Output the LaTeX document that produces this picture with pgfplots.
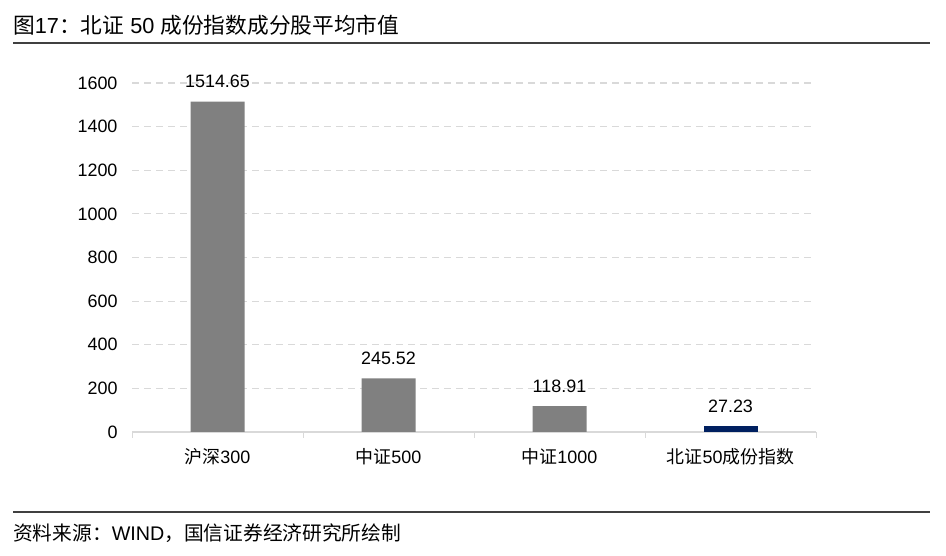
\documentclass[border=0pt]{standalone}
\usepackage{fontspec}
\setmainfont{Liberation Sans}
\newfontfamily\cjk{Noto Sans CJK SC}
\usepackage{pgfplots}
\pgfplotsset{compat=1.18}
\definecolor{bargray}{HTML}{808080}
\definecolor{barnavy}{HTML}{002060}
\definecolor{gridgray}{HTML}{D9D9D9}
\definecolor{rulegray}{HTML}{404040}
\begin{document}
\begin{tikzpicture}[x=1bp,y=1bp]
\useasboundingbox (0,0) rectangle (946,556);
% title and source
\node[anchor=west,inner sep=0pt,font=\fontsize{21.8}{24}\selectfont] at (13,531) {{\cjk 图}17{\cjk ：北证} 50 {\cjk 成份指数成分股平均市值}};
\draw[rulegray,line width=1.5bp] (13,513) -- (930,513);
\draw[rulegray,line width=1.5bp] (13,44) -- (930,44);
\node[anchor=west,inner sep=0pt,font=\fontsize{19.8}{22}\selectfont] at (13,23) {{\cjk 资料来源：}WIND{\cjk ，国信证券经济研究所绘制}};
\begin{axis}[
    at={(132bp,124bp)},
    anchor=south west,
    scale only axis,
    width=684bp,
    height=349bp,
    xmin=-0.5, xmax=3.5,
    ymin=0, ymax=1600,
    ytick={0,200,...,1600},
    xtick={-0.5,0.5,1.5,2.5,3.5},
    xticklabels={},
    extra x ticks={0,1,2,3},
    extra x tick labels={{\cjk 沪深}300,{\cjk 中证}500,{\cjk 中证}1000,{\cjk 北证}50{\cjk 成份指数}},
    extra x tick style={major tick length=0pt, grid=none},
    axis x line*=bottom,
    axis y line*=left,
    y axis line style={draw=none},
    ytick style={draw=none},
    x axis line style={gridgray, line width=1.2bp, -},
    xtick style={gridgray, line width=1bp},
    major tick length=6bp,
    tick align=outside,
    ymajorgrids,
    major grid style={gridgray, line width=1.2bp, dash pattern=on 7bp off 5bp},
    ticklabel style={font=\fontsize{18}{20}\selectfont, text=black},
    /pgf/number format/assume math mode=true,
    /pgf/number format/1000 sep={},
    yticklabel style={xshift=-5bp},
    xticklabel style={yshift=-13bp},
    clip=false,
]
\addplot[ybar, bar width=54bp, fill=bargray, draw=none,
    nodes near coords, point meta=explicit symbolic,
    every node near coord/.append style={font=\fontsize{18}{20}\selectfont, text=black, yshift=10bp}]
    coordinates {(0,1514.65)[1514.65] (1,245.52)[245.52] (2,118.91)[118.91]};
\addplot[ybar, bar width=54bp, fill=barnavy, draw=none,
    nodes near coords, point meta=explicit symbolic,
    every node near coord/.append style={font=\fontsize{18}{20}\selectfont, text=black, yshift=10bp}]
    coordinates {(3,27.23)[27.23]};
\end{axis}
\end{tikzpicture}
\end{document}
